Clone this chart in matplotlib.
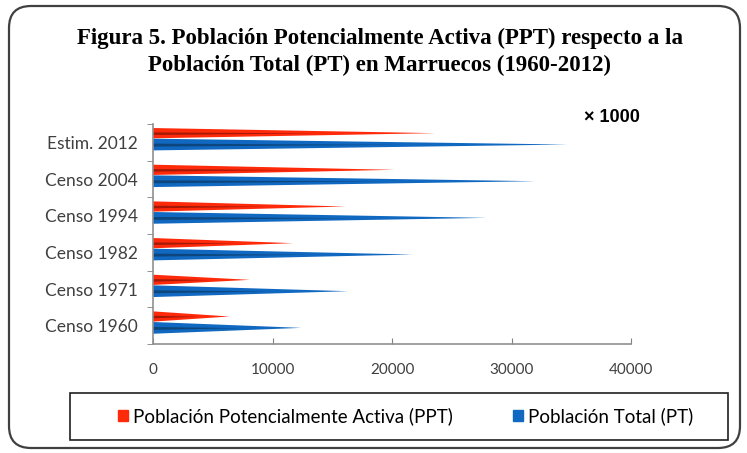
import matplotlib.pyplot as plt
from matplotlib.patches import FancyBboxPatch, Rectangle, Patch

# data (x 1000 habitantes)
censos = ['Censo 1960', 'Censo 1971', 'Censo 1982', 'Censo 1994', 'Censo 2004', 'Estim. 2012']
ppt = [6400, 8100, 11700, 16100, 20200, 23600]
pt = [12400, 16300, 21700, 27900, 32000, 34700]
xticks = [0, 10000, 20000, 30000, 40000]

red = '#ff2a0a'
red_dark = '#5a0a05'
blue = '#1068c0'
blue_dark = '#0a2a45'

fig = plt.figure(figsize=(7.47, 4.53), dpi=100)

# background frame in pixel coords
bg = fig.add_axes([0, 0, 1, 1], zorder=0)
bg.set_xlim(0, 747)
bg.set_ylim(453, 0)
bg.axis('off')
bg.add_patch(FancyBboxPatch((9, 6), 731, 442, boxstyle='round,pad=0,rounding_size=22',
                            fc='white', ec='#404040', lw=1.6))
bg.add_patch(Rectangle((70, 393), 658, 47, fc='white', ec='#202020', lw=1.2))

ax = fig.add_axes([153 / 747, 1 - 344 / 453, 478 / 747, 220 / 453], zorder=1)
ax.patch.set_alpha(0)


def cone(ax, y, v, h, col, dark):
    ax.fill([0, v, 0], [y - h, y, y + h], color=col, lw=0)
    # dark core to imitate the shading of the 3D cone
    ax.fill([0, v * 0.6, 0], [y - h * 0.35, y - h * 0.05, y + h * 0.15],
            color=dark, alpha=0.55, lw=0)


for i in range(len(censos)):
    cone(ax, i + 0.25, ppt[i], 0.14, red, red_dark)
    cone(ax, i - 0.06, pt[i], 0.16, blue, blue_dark)

ax.set_xlim(0, 40000)
ax.set_ylim(-0.5, len(censos) - 0.5)
ax.set_xticks(xticks)
ax.set_xticklabels([str(t) for t in xticks], fontsize=11, color='#404040', family='Lato')
ax.set_yticks(range(len(censos)))
ax.set_yticklabels(censos, fontsize=12.5, color='#404040', family='Lato')
ax.tick_params(axis='y', length=0, pad=11)
ax.set_yticks([i - 0.5 for i in range(len(censos) + 1)], minor=True)
ax.tick_params(axis='y', which='minor', length=4, color='#808080', direction='out')
ax.tick_params(axis='x', length=4, color='#808080', direction='in', pad=14)
for s in ['top', 'right']:
    ax.spines[s].set_visible(False)
for s in ['left', 'bottom']:
    ax.spines[s].set_color('#909090')
    ax.spines[s].set_linewidth(1.2)

fig.text(380 / 747, 1 - 38 / 453, 'Figura 5. Población Potencialmente Activa (PPT) respecto a la',
         ha='center', va='center', fontsize=16.5, fontweight='bold', family='Liberation Serif')
fig.text(380 / 747, 1 - 65 / 453, 'Población Total (PT) en Marruecos (1960-2012)',
         ha='center', va='center', fontsize=16.5, fontweight='bold', family='Liberation Serif')
fig.text(612 / 747, 1 - 117 / 453, '× 1000', ha='center', va='center',
         fontsize=13, fontweight='bold', family='Liberation Sans')

handles = [Patch(color=red), Patch(color=blue)]
labels = ['Población Potencialmente Activa (PPT)', 'Población Total (PT)']
fig.legend(handles, labels, loc='center', bbox_to_anchor=(406 / 747, 1 - 416 / 453),
           ncol=2, frameon=False, prop={'family': 'Lato', 'size': 13.5},
           handlelength=0.5, handleheight=0.5, handletextpad=0.3, columnspacing=3.2)

fig.savefig('out.png', dpi=100)
